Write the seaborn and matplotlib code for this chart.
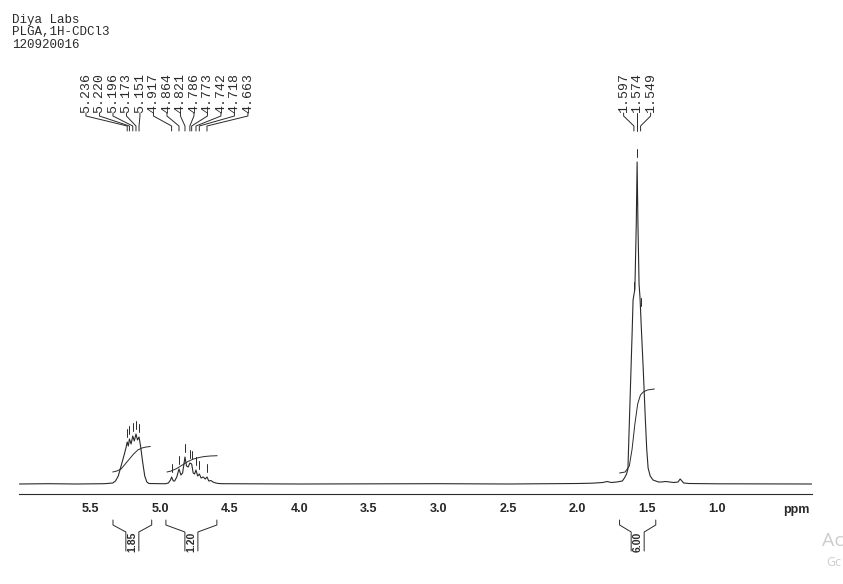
import matplotlib
matplotlib.use("Agg")
import numpy as np
import pandas as pd
import matplotlib.pyplot as plt
import matplotlib.transforms as mtransforms
import seaborn as sns

sns.set_style("white")
plt.rcParams['font.family'] = ['Liberation Sans', 'DejaVu Sans']

header = ["Diya Labs", "PLGA,1H-CDCl3", "120920016"]

# spectrum trace (ppm, height above baseline)
spec_ppm = [6.01, 5.80, 5.60, 5.40, 5.34, 5.32, 5.30, 5.28, 5.26, 5.245, 5.236, 5.228,
            5.220, 5.208, 5.196, 5.185, 5.173, 5.162, 5.151, 5.140, 5.125, 5.11, 5.095,
            5.08, 5.00, 4.96, 4.94, 4.925, 4.917, 4.905, 4.895, 4.88, 4.864, 4.85, 4.838,
            4.821, 4.81, 4.798, 4.786, 4.773, 4.762, 4.752, 4.742, 4.73, 4.718, 4.705,
            4.69, 4.675, 4.663, 4.65, 4.635, 4.62, 4.60, 4.58, 4.55, 4.0, 3.0, 2.5, 2.0,
            1.90, 1.82, 1.79, 1.76, 1.72, 1.70, 1.68, 1.665, 1.65, 1.64, 1.63, 1.62, 1.61,
            1.603, 1.590, 1.580, 1.574, 1.568, 1.560, 1.553, 1.545, 1.53, 1.515, 1.505,
            1.495, 1.48, 1.46, 1.44, 1.42, 1.40, 1.37, 1.34, 1.31, 1.28, 1.265, 1.255,
            1.24, 1.20, 1.0, 0.32]
spec_int = [0, 0.3, 0, 0.3, 1, 3, 8, 18, 28, 36, 42, 38,
            45, 40, 48, 43, 50, 44, 47, 38, 22, 8, 2,
            0.5, 0.3, 0.3, 1, 4, 7, 3, 3, 7, 15, 9, 11,
            27, 18, 17, 21, 20, 11, 10, 14, 8, 10, 6,
            7, 5, 7, 3, 3.5, 2, 1, 0.5, 0.3, 0, 0.3, 0, 0.5,
            0.8, 1.5, 2.5, 1.5, 2, 2.5, 3, 6, 10, 15, 60, 105, 150,
            184, 195, 260, 322, 260, 200, 186, 160, 115, 65, 35,
            16, 8, 4, 3, 2, 2, 2.5, 2, 1.5, 2, 5, 3.5,
            1, 0.5, 0.2, 0]

# integral curves
int1_ppm = [5.34, 5.31, 5.28, 5.25, 5.22, 5.19, 5.16, 5.13, 5.10, 5.07]
int1_val = [12, 13, 15, 20, 25, 30, 34, 36, 37, 37.5]
int2_ppm = [4.95, 4.92, 4.88, 4.84, 4.80, 4.76, 4.72, 4.68, 4.64, 4.59]
int2_val = [12, 13, 15.5, 19, 22.5, 25, 26.5, 27.5, 28, 28.3]
int3_ppm = [1.70, 1.66, 1.63, 1.61, 1.59, 1.57, 1.55, 1.53, 1.50, 1.45]
int3_val = [11, 12, 18, 35, 60, 80, 89, 92, 94, 95]

# integral regions and values
integ_left = [5.338, 4.958, 1.70]
integ_right = [5.06, 4.592, 1.44]
integ_text = ["1.85", "1.20", "6.00"]

# peak picks
picks_a = [5.236, 5.220, 5.196, 5.173, 5.151, 4.917, 4.864, 4.821, 4.786, 4.773,
           4.742, 4.718, 4.663]
picks_b = [1.597, 1.574, 1.549]

W, H = 843, 584
fig = plt.figure(figsize=(W / 100, H / 100), dpi=100)
ax = fig.add_axes([19 / W, 90 / H, 793 / W, 434 / H])

ink = "#2a2a2a"
df = pd.DataFrame({"ppm": spec_ppm, "I": spec_int})
sns.lineplot(data=df, x="ppm", y="I", sort=False, estimator=None, color=ink, lw=0.8, ax=ax)
for xs, ys in [(int1_ppm, int1_val), (int2_ppm, int2_val), (int3_ppm, int3_val)]:
    sns.lineplot(x=xs, y=ys, sort=False, estimator=None, color=ink, lw=0.7, ax=ax)

ax.set_xlim(6.013, 0.318)
ax.set_ylim(-10, 424)
for s in ["top", "left", "right"]:
    ax.spines[s].set_visible(False)
ax.spines["bottom"].set_linewidth(0.8)
ax.spines["bottom"].set_color(ink)
ax.set_yticks([])
ax.set_xlabel("")
ax.set_ylabel("")
major = np.arange(6.0, 0.4, -0.5)
ax.set_xticks(major)
ax.set_xticklabels(["" if round(t, 1) in (6.0, 0.5) else f"{t:.1f}" for t in major],
                   fontweight="bold", fontsize=9)
ax.set_xticks(np.arange(6.0, 0.3, -0.05), minor=True)
ax.tick_params(axis="x", which="major", direction="out", length=4.3, width=0.8, color=ink, pad=2.5)
ax.tick_params(axis="x", which="minor", direction="out", length=2.2, width=0.6, color=ink)

# x in data, y in figure pixels from top
tr = mtransforms.blended_transform_factory(ax.transData, fig.transFigure)
def fy(ypx):
    return 1 - ypx / H

ax.text(0.43, fy(510), "ppm", transform=tr, ha="center", va="center",
        fontsize=9, fontweight="bold", color=ink)

# integral brackets
half = 6.5 / 139.3
for l, r, t in zip(integ_left, integ_right, integ_text):
    c = (l + r) / 2
    ax.plot([l, l, c + half, c + half], [fy(520), fy(525), fy(532), fy(551)],
            transform=tr, color=ink, lw=0.7, clip_on=False)
    ax.plot([r, r, c - half, c - half], [fy(520), fy(525), fy(532), fy(551)],
            transform=tr, color=ink, lw=0.7, clip_on=False)
    ax.text(c, fy(542), t, transform=tr, rotation=90, ha="center", va="center",
            fontsize=7.5, fontweight="bold", family="Liberation Sans", color=ink)

# peak pick labels and markers
step = 13.5 / 139.3
def draw_picks(picks, first):
    for i, p in enumerate(picks):
        xl = first - i * step
        ax.text(xl, fy(113), f"{p:.3f}", transform=tr, rotation=90, ha="center",
                va="bottom", fontsize=9.5, family="Liberation Mono", color=ink)
        ax.plot([xl, xl, p, p], [fy(113), fy(116), fy(126), fy(131)],
                transform=tr, color=ink, lw=0.7, clip_on=False)
        h = np.interp(p, spec_ppm[::-1], spec_int[::-1])
        ax.plot([p, p], [h + 5, h + 13], color=ink, lw=0.7)

draw_picks(picks_a, 5.532)
draw_picks(picks_b, 1.574 + step)

for i, line in enumerate(header):
    fig.text(12 / W, fy(20 + 12.3 * i), line, ha="left", va="center", fontsize=9,
             family="Liberation Mono", color=ink)

# screen watermark, cut at the edge in the reference
fig.text(822 / W, fy(541), "Ac", ha="left", va="center", fontsize=14,
         family="Open Sans", color="#cdcdcd")
fig.text(826 / W, fy(562), "Gc", ha="left", va="center", fontsize=9,
         family="Open Sans", color="#cdcdcd")

fig.savefig("out.png", dpi=100)
